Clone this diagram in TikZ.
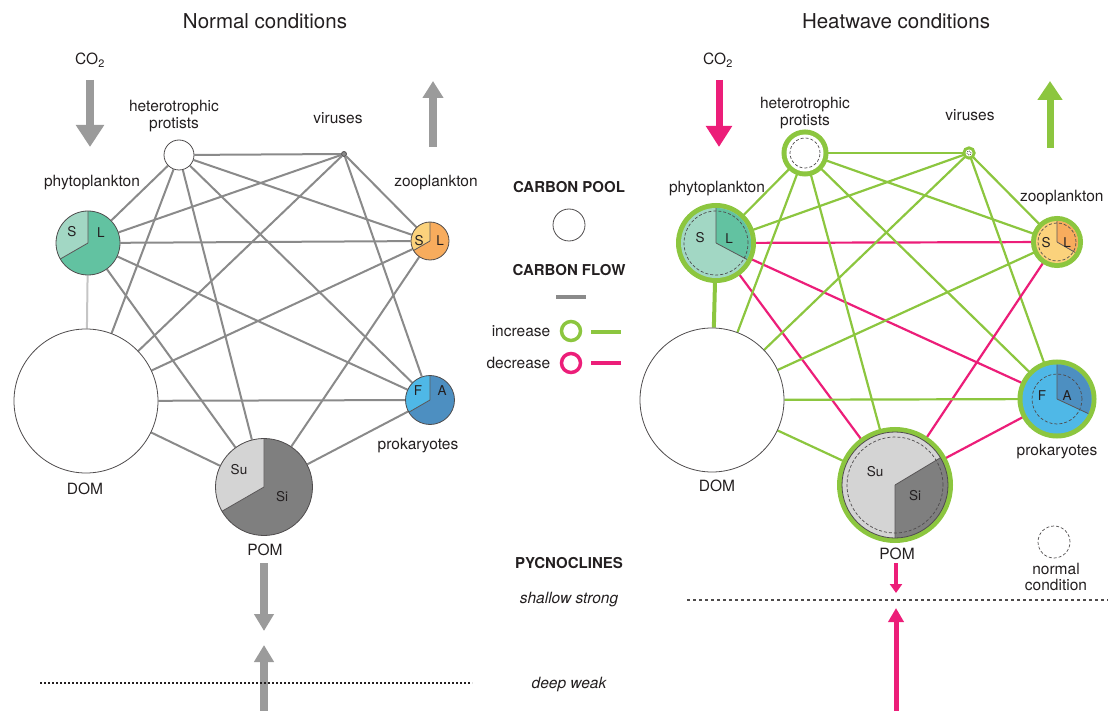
\documentclass[tikz,border=0pt]{standalone}
\usepackage{fontspec}
\setmainfont{TeX Gyre Heros}
\usetikzlibrary{arrows.meta,backgrounds,calc,positioning}

\definecolor{ink}{HTML}{231F20}
\definecolor{flowgray}{HTML}{8A8A8A}
\definecolor{arrowgray}{HTML}{9B9B9B}
\definecolor{hgreen}{HTML}{8CC63F}
\definecolor{hpink}{HTML}{EC1E79}
\definecolor{phyS}{HTML}{A2D7C4}
\definecolor{phyL}{HTML}{62C2A1}
\definecolor{zooS}{HTML}{FBD27C}
\definecolor{zooL}{HTML}{F8AC5D}
\definecolor{prkF}{HTML}{4FB8E7}
\definecolor{prkA}{HTML}{4D8FC1}
\definecolor{pomSu}{HTML}{D4D4D4}
\definecolor{pomSi}{HTML}{7F7F7F}

\tikzset{
  pie/.style n args={4}{fill=#4, path picture={
      \fill[#3] (path picture bounding box.center) -- ++(#1:120)
        arc[start angle=#1, end angle=#2, radius=120] -- cycle;
      \draw[ink!75, line width=0.8pt] (path picture bounding box.center) -- ++(#1:120)
        (path picture bounding box.center) -- ++(#2:120);}},
  hot/.style={preaction={draw=hgreen, line width=#1}},
  hot/.default=10pt
}

\begin{document}
\begin{tikzpicture}[x=1pt, y=1pt, text=ink, font=\fontsize{15.5}{17}\selectfont]
    \tikzstyle{pool}=[circle, draw=ink!80, line width=0.8pt, inner sep=0pt, fill=white]
    \tikzstyle{normalring}=[draw=ink!80, line width=0.7pt, dash pattern=on 3pt off 2pt]
    \tikzstyle{flow}=[draw=flowgray, line width=2pt]
    \tikzstyle{gain}=[draw=hgreen, line width=2.2pt]
    \tikzstyle{loss}=[draw=hpink, line width=2.2pt]
    \tikzstyle{part}=[font=\fontsize{13.5}{15}\selectfont, inner sep=0pt]
    \tikzstyle{legendhead}=[font=\bfseries\fontsize{15}{17}\selectfont]
    \tikzstyle{layertxt}=[font=\itshape\fontsize{15.5}{17}\selectfont]
    \tikzstyle{title}=[font=\fontsize{20.5}{24}\selectfont]

    \useasboundingbox (0,0) rectangle (1108,-711);

    % normal conditions
    \node[title] (ltitle) at (265,-21) {Normal conditions};
    \node (lco2) at (90,-60) {CO\textsubscript{2}};

    \node[pool, minimum size=30pt] (lpro) at (179,-155) {};
    \node[pool, minimum size=5pt, fill=flowgray] (lvir) at (344,-154) {};
    \node[pool, minimum size=64pt, pie={90}{210}{phyS}{phyL}] (lphy) at (88,-243) {};
    \node[pool, minimum size=38pt, pie={90}{210}{zooS}{zooL}] (lzoo) at (430,-241) {};
    \node[pool, minimum size=144pt] (ldom) at (86,-401) {};
    \node[pool, minimum size=97pt, pie={90}{210}{pomSu}{pomSi}] (lpom) at (264,-487) {};
    \node[pool, minimum size=49pt, pie={90}{210}{prkF}{prkA}] (lprk) at (430,-400) {};

    \node[align=center] (lprotxt) at (174,-116) {heterotrophic\\protists};
    \node (lvirtxt) at (338,-118) {viruses};
    \node (lphytxt) at (92,-183) {phytoplankton};
    \node (lzootxt) at (436,-183) {zooplankton};
    \node (ldomtxt) at (85,-489) {DOM};
    \node (lpomtxt) at (265,-550) {POM};
    \node (lprktxt) at (418,-446) {prokaryotes};

    \node[part] (lphyS) at (72,-232) {S};
    \node[part] (lphyL) at (101,-233) {L};
    \node[part] (lzooS) at (419,-241) {S};
    \node[part] (lzooL) at (440,-241) {L};
    \node[part] (lprkF) at (418,-391) {F};
    \node[part] (lprkA) at (442,-391) {A};
    \node[part] (lpomSu) at (239,-470) {Su};
    \node[part] (lpomSi) at (282,-497) {Si};

    \begin{scope}[on background layer]
      \foreach \a/\b in {phy/pro,phy/vir,phy/zoo,phy/prk,phy/pom,pro/vir,pro/zoo,pro/dom,
          pro/pom,pro/prk,vir/zoo,vir/dom,vir/prk,zoo/dom,zoo/pom,dom/prk,dom/pom,pom/prk}
        \draw[flow] (l\a) -- (l\b);
      \draw[flow, draw=flowgray!50] (lphy) -- (ldom);
    \end{scope}

    \coordinate (lco2a) at (90,-80);   \coordinate (lco2b) at (90,-147);
    \coordinate (lzooa) at (433,-147); \coordinate (lzoob) at (433,-81);
    \coordinate (lsinka) at (264,-563); \coordinate (lsinkb) at (264,-631);
    \coordinate (lmixa) at (264,-711);  \coordinate (lmixb) at (264,-645);
    \coordinate (ldeepa) at (40,-683);  \coordinate (ldeepb) at (472,-683);
    \draw[draw=arrowgray, line width=8pt, -{Triangle[width=27pt,length=22pt]}] (lco2a) -- (lco2b);
    \draw[draw=arrowgray, line width=7.5pt, -{Triangle[width=20pt,length=17pt]}] (lzooa) -- (lzoob);
    \draw[draw=arrowgray, line width=8pt, -{Triangle[width=19pt,length=17pt]}] (lsinka) -- (lsinkb);
    \draw[draw=arrowgray, line width=8pt, -{Triangle[width=19pt,length=17pt]}] (lmixa) -- (lmixb);
    \draw[ink, line width=2pt, dash pattern=on 2pt off 2pt] (ldeepa) -- (ldeepb);

    % legend
    \node[legendhead] (poolhead) at (569,-187) {CARBON POOL};
    \node[pool, minimum size=32pt] (poolkey) at (569,-225) {};
    \node[legendhead] (flowhead) at (569,-270) {CARBON FLOW};
    \coordinate (flowa) at (556,-297); \coordinate (flowb) at (586,-297);
    \draw[flow, line width=4pt] (flowa) -- (flowb);
    \node[circle, draw=hgreen, line width=3.5pt, minimum size=19pt] (incring) at (571,-331) {};
    \node[circle, draw=hpink, line width=3.5pt, minimum size=19pt] (decring) at (571,-363) {};
    \node[left=6pt of incring] (inctxt) {increase};
    \node[left=6pt of decring] (dectxt) {decrease};
    \coordinate (inca) at (591,-332); \coordinate (incb) at (621,-332);
    \coordinate (deca) at (591,-363); \coordinate (decb) at (621,-363);
    \draw[gain, line width=3.5pt] (inca) -- (incb);
    \draw[loss, line width=3.5pt] (deca) -- (decb);
    \node[legendhead] (pychead) at (569,-563) {PYCNOCLINES};
    \node[layertxt] (shallowtxt) at (569,-600) {shallow strong};
    \node[layertxt] (deeptxt) at (569,-684) {deep weak};

    % heatwave conditions
    \node[title] (htitle) at (896,-21) {Heatwave conditions};
    \node (hco2) at (718,-60) {CO\textsubscript{2}};

    \node[pool, draw=none, hot, minimum size=37pt] (hpro) at (805,-153) {};
    \node[pool, draw=none, hot=6pt, minimum size=7pt] (hvir) at (969,-153) {};
    \node[pool, draw=none, hot, minimum size=70pt, pie={-28}{90}{phyL}{phyS}] (hphy) at (716,-243) {};
    \node[pool, draw=none, hot, minimum size=42pt, pie={-30}{90}{zooL}{zooS}] (hzoo) at (1057,-242) {};
    \node[pool, minimum size=144pt] (hdom) at (712,-400) {};
    \node[pool, hot, minimum size=106pt, pie={-90}{31}{pomSi}{pomSu}] (hpom) at (895,-485) {};
    \node[pool, draw=none, hot, minimum size=69pt, pie={-25}{90}{prkA}{prkF}] (hprk) at (1057,-399) {};

    \draw[normalring] (hpro.center) circle[radius=15];
    \draw[normalring, dash pattern=on 1pt off 1pt] (hvir.center) circle[radius=2];
    \draw[normalring] (hphy.center) circle[radius=32];
    \draw[normalring] (hzoo.center) circle[radius=19];
    \draw[normalring] (hprk.center) circle[radius=25];
    \draw[normalring] (hpom.center) circle[radius=48];

    \node[align=center] (hprotxt) at (805,-113) {heterotrophic\\protists};
    \node (hvirtxt) at (970,-115) {viruses};
    \node (hphytxt) at (717,-189) {phytoplankton};
    \node[anchor=east] (hzootxt) at (1107,-198) {zooplankton};
    \node (hdomtxt) at (717,-486) {DOM};
    \node (hpomtxt) at (897,-554) {POM};
    \node (hprktxt) at (1057,-452) {prokaryotes};

    \node[part] (hphyS) at (700,-238) {S};
    \node[part] (hphyL) at (729,-239) {L};
    \node[part] (hzooS) at (1046,-243) {S};
    \node[part] (hzooL) at (1067,-243) {L};
    \node[part] (hprkF) at (1042,-396) {F};
    \node[part] (hprkA) at (1067,-396) {A};
    \node[part] (hpomSu) at (875,-472) {Su};
    \node[part] (hpomSi) at (915,-496) {Si};

    \begin{scope}[on background layer]
      \foreach \a/\b/\c in {phy/pro/gain,phy/vir/gain,phy/zoo/loss,phy/prk/loss,phy/pom/loss,
          pro/vir/gain,pro/zoo/gain,pro/dom/gain,pro/pom/gain,pro/prk/gain,vir/zoo/gain,
          vir/dom/gain,vir/prk/gain,zoo/dom/gain,zoo/pom/loss,dom/prk/gain,dom/pom/gain,pom/prk/loss}
        \draw[\c] (h\a) -- (h\b);
      \draw[gain, line width=4pt] (hphy) -- (hdom);
    \end{scope}

    \node[circle, normalring, minimum size=32pt] (normkey) at (1054,-542) {};
    \node[align=center, font=\fontsize{15.5}{16}\selectfont] (normtxt) at (1056,-577) {normal\\condition};

    \coordinate (hco2a) at (719,-80);   \coordinate (hco2b) at (719,-147);
    \coordinate (hzooa) at (1050,-148); \coordinate (hzoob) at (1050,-81);
    \coordinate (hsinka) at (896,-563); \coordinate (hsinkb) at (896,-593);
    \coordinate (hmixa) at (896,-711);  \coordinate (hmixb) at (896,-608);
    \coordinate (hshala) at (687,-600); \coordinate (hshalb) at (1108,-600);
    \draw[draw=hpink, line width=7pt, -{Triangle[width=25pt,length=21pt]}] (hco2a) -- (hco2b);
    \draw[draw=hgreen, line width=7pt, -{Triangle[width=24pt,length=19pt]}] (hzooa) -- (hzoob);
    \draw[draw=hpink, line width=4.5pt, -{Triangle[width=12pt,length=9pt]}] (hsinka) -- (hsinkb);
    \draw[draw=hpink, line width=5pt, -{Triangle[width=15pt,length=14pt]}] (hmixa) -- (hmixb);
    \draw[ink!80, line width=1.5pt, dash pattern=on 3pt off 3pt] (hshala) -- (hshalb);
\end{tikzpicture}
\end{document}
